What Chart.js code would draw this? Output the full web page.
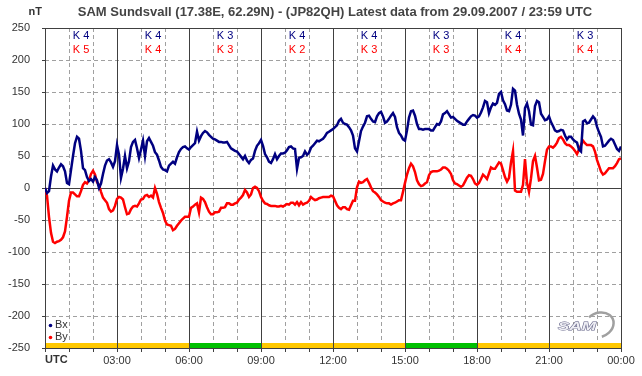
<!DOCTYPE html>
<html>
<head>
<meta charset="utf-8">
<script src="https://cdn.jsdelivr.net/npm/chart.js@4.4.1/dist/chart.umd.min.js"></script>
<style>
html, body { margin: 0; padding: 0; background: #fff; }
#wrap { width: 642px; height: 376px; }
</style>
</head>
<body>
<div id="wrap"><canvas id="samChart" width="642" height="376"></canvas></div>
<script>
var TITLE = 'SAM Sundsvall (17.38E, 62.29N) - (JP82QH) Latest data from 29.09.2007 / 23:59 UTC';
var STEP_MINUTES = 5;

// Bx (nT), one value every 5 minutes, 00:00 .. 24:00 (two hours per row)
var bx = [
    0, -8, -5, 18, 35, 29, 26, 32, 37, 34, 26, 8, 6, 28, 50, 70, 80, 77, 58, 31, 28, 17, 11, 14,
    10, 17, 12, 0, 7, 22, 35, 43, 45, 40, 33, 42, 67, 52, 16, 30, 50, 31, 42, 64, 72, 75, 62, 47,
    60, 74, 50, 73, 78, 72, 66, 56, 52, 43, 33, 29, 28, 26, 35, 38, 41, 38, 48, 56, 61, 64, 65, 62,
    60, 64, 67, 70, 88, 74, 81, 86, 89, 87, 83, 80, 77, 76, 74, 72, 72, 71, 71, 72, 67, 62, 60, 58,
    57, 53, 49, 45, 50, 43, 39, 44, 46, 58, 66, 70, 75, 66, 53, 48, 41, 39, 45, 53, 45, 50, 54, 54,
    55, 59, 64, 65, 62, 61, 30, 47, 48, 50, 57, 52, 55, 63, 66, 70, 74, 73, 75, 77, 81, 86, 88, 90,
    92, 95, 98, 105, 108, 102, 100, 99, 95, 90, 82, 62, 57, 73, 89, 96, 102, 112, 113, 108, 104, 103, 112, 117,
    119, 112, 102, 104, 108, 113, 117, 111, 95, 86, 82, 76, 74, 90, 110, 120, 121, 113, 100, 92, 92, 91, 92, 92,
    92, 90, 90, 95, 100, 99, 104, 115, 117, 120, 115, 110, 111, 108, 105, 103, 101, 99, 99, 104, 108, 112, 114, 113,
    110, 112, 118, 126, 136, 134, 117, 126, 132, 130, 133, 147, 150, 137, 131, 121, 120, 130, 155, 152, 130, 116, 107, 82,
    125, 132, 120, 99, 98, 128, 136, 134, 116, 111, 106, 107, 112, 103, 97, 90, 88, 89, 91, 90, 82, 76, 80, 80,
    76, 73, 71, 60, 57, 104, 106, 101, 102, 107, 112, 108, 96, 87, 80, 65, 66, 70, 74, 77, 75, 68, 61, 58, 65
];

// By (nT)
var by = [
    0, -12, -45, -70, -84, -86, -84, -83, -81, -77, -68, -45, -20, -7, -7, -10, -13, -13, -5, 5, 9, 7, 12, 22,
    27, 21, 9, 5, -6, -15, -19, -23, -33, -37, -35, -28, -17, -14, -15, -18, -30, -41, -40, -33, -29, -28, -29, -24,
    -18, -17, -12, -11, -14, -12, -15, 0, -9, -22, -31, -39, -51, -57, -58, -59, -66, -64, -59, -55, -51, -48, -45, -45,
    -45, -31, -29, -26, -24, -38, -15, -17, -22, -30, -37, -41, -41, -38, -38, -37, -31, -31, -30, -24, -24, -26, -26, -24,
    -23, -18, -15, -11, -3, -7, -14, -10, 0, 2, 0, -5, -14, -20, -24, -25, -27, -28, -28, -28, -29, -29, -28, -29,
    -27, -25, -26, -23, -23, -26, -22, -27, -22, -26, -24, -23, -20, -14, -17, -19, -18, -16, -15, -14, -14, -14, -14, -12,
    -13, -20, -27, -31, -33, -30, -30, -33, -34, -27, -20, -20, 1, 10, 8, 9, 12, 14, 8, 1, -5, -7, -10, -14,
    -19, -21, -23, -24, -24, -26, -24, -23, -21, -19, -19, -6, 8, 21, 31, 38, 34, 25, 12, 6, 3, 4, 7, 9,
    20, 25, 26, 26, 26, 27, 29, 32, 32, 30, 27, 22, 12, 7, 6, 4, 2, 4, 10, 16, 20, 19, 14, 7,
    5, 8, 14, 21, 18, 14, 23, 32, 30, 30, 35, 40, 38, 28, 17, 10, 16, 40, 58, -4, -6, -6, -6, 5,
    45, 8, -6, 15, 42, 50, 32, 12, 13, 22, 42, 60, 65, 65, 63, 66, 71, 78, 80, 76, 70, 67, 67, 65,
    62, 58, 53, 60, 67, 74, 70, 67, 67, 67, 65, 57, 44, 35, 26, 21, 23, 27, 31, 31, 31, 34, 39, 45, 46
];

// K indices per 3-hour block
var kBx = [4, 4, 3, 4, 4, 3, 4, 3];
var kBy = [5, 4, 3, 2, 3, 3, 4, 4];

// status bar colour per 3-hour block
var statusColors = ['#ffc800', '#ffc800', '#00c000', '#ffc800', '#ffc800', '#00c000', '#ffc800', '#ffc800'];

var hourLabels = {3: '03:00', 6: '06:00', 9: '09:00', 12: '12:00', 15: '15:00', 18: '18:00', 21: '21:00', 24: '00:00'};

var yTicks = [-250, -200, -150, -100, -50, 0, 50, 100, 150, 200, 250];

var BLUE = '#000080';
var RED = '#ff0000';
var FONT = "'Liberation Sans', Arial, sans-serif";

(function() {
    'use strict';

    var times = bx.map(function(v, i) { return i * STEP_MINUTES / 60; });

    function hline(ctx, x0, x1, y) {
        ctx.beginPath();
        ctx.moveTo(x0, y);
        ctx.lineTo(x1, y);
        ctx.stroke();
    }
    function vline(ctx, x, y0, y1) {
        ctx.beginPath();
        ctx.moveTo(x, y0);
        ctx.lineTo(x, y1);
        ctx.stroke();
    }

    var samDecor = {
        id: 'samDecor',
        beforeDatasetsDraw: function(chart) {
            var ctx = chart.ctx, a = chart.chartArea;
            var xs = chart.scales.x, ys = chart.scales.y;
            var h, px, py;
            ctx.save();
            ctx.lineWidth = 1;

            // dashed hourly / 50 nT grid
            ctx.strokeStyle = '#a0a0a0';
            ctx.setLineDash([4, 3]);
            for (h = 1; h < 24; h++) {
                if (h % 3 === 0) continue;
                px = Math.round(xs.getPixelForValue(h)) + 0.5;
                vline(ctx, px, a.top, a.bottom);
            }
            yTicks.forEach(function(t) {
                if (t === 0 || t === 250 || t === -250) return;
                py = Math.round(ys.getPixelForValue(t)) + 0.5;
                hline(ctx, a.left, a.right, py);
            });
            ctx.setLineDash([]);

            // status bar along the bottom
            statusColors.forEach(function(c, b) {
                var x0 = xs.getPixelForValue(b * 3);
                var x1 = xs.getPixelForValue(b * 3 + 3);
                ctx.fillStyle = c;
                ctx.fillRect(x0, a.bottom - 5, x1 - x0, 5);
            });

            // solid 3-hour lines, zero line, frame
            ctx.strokeStyle = '#404040';
            for (h = 3; h < 24; h += 3) {
                px = Math.round(xs.getPixelForValue(h)) + 0.5;
                vline(ctx, px, a.top, a.bottom + 4);
            }
            py = Math.round(ys.getPixelForValue(0)) + 0.5;
            hline(ctx, a.left, a.right, py);
            ctx.strokeRect(Math.round(a.left) + 0.5, Math.round(a.top) + 0.5,
                Math.round(a.right - a.left), Math.round(a.bottom - a.top));

            // tick marks
            for (h = 0; h <= 24; h++) {
                px = Math.round(xs.getPixelForValue(h)) + 0.5;
                vline(ctx, px, a.bottom, a.bottom + 4);
            }
            yTicks.forEach(function(t) {
                py = Math.round(ys.getPixelForValue(t)) + 0.5;
                hline(ctx, a.left - 3, a.left, py);
            });
            ctx.restore();
        },
        afterDraw: function(chart) {
            var ctx = chart.ctx, a = chart.chartArea;
            var xs = chart.scales.x;
            ctx.save();

            // title
            ctx.fillStyle = '#444444';
            ctx.font = 'bold 13px ' + FONT;
            ctx.textAlign = 'center';
            ctx.textBaseline = 'middle';
            ctx.fillText(TITLE, (a.left + a.right) / 2 + 2, 12);

            ctx.fillStyle = '#333333';
            ctx.font = 'bold 11px ' + FONT;
            ctx.textAlign = 'right';
            ctx.fillText('nT', 42, 12);

            ctx.textAlign = 'left';
            ctx.fillText('UTC', a.left, 360);

            // K indices
            ctx.font = '11px ' + FONT;
            ctx.textAlign = 'center';
            kBx.forEach(function(k, b) {
                var px = xs.getPixelForValue(b * 3 + 1.5);
                ctx.fillStyle = BLUE;
                ctx.fillText('K ' + k, px, 36);
                ctx.fillStyle = RED;
                ctx.fillText('K ' + kBy[b], px, 50);
            });

            // legend
            ctx.textAlign = 'left';
            ctx.fillStyle = BLUE;
            ctx.beginPath();
            ctx.arc(50.5, 325.5, 1.8, 0, Math.PI * 2);
            ctx.fill();
            ctx.fillStyle = RED;
            ctx.beginPath();
            ctx.arc(50.5, 337.5, 1.8, 0, Math.PI * 2);
            ctx.fill();
            ctx.fillStyle = '#333333';
            ctx.fillText('Bx', 55, 325);
            ctx.fillText('By', 55, 337);

            // SAM logo
            ctx.strokeStyle = '#a0a0a0';
            ctx.lineWidth = 2.5;
            ctx.beginPath();
            ctx.ellipse(599, 325, 15, 12, -0.4, -2.0, 1.7);
            ctx.stroke();
            ctx.save();
            ctx.translate(558, 330);
            ctx.scale(1.55, 1);
            ctx.font = 'italic bold 11px ' + FONT;
            ctx.textBaseline = 'alphabetic';
            ctx.fillStyle = '#eeeef4';
            ctx.strokeStyle = '#5a5a80';
            ctx.lineWidth = 0.8;
            ctx.strokeText('SAM', 0, 0);
            ctx.fillText('SAM', 0, 0);
            ctx.restore();

            ctx.restore();
        }
    };

    new Chart(document.getElementById('samChart'), {
        type: 'line',
        data: {
            labels: times,
            datasets: [{
                label: 'Bx',
                data: bx,
                borderColor: BLUE,
                borderWidth: 2.5,
                pointRadius: 0,
                tension: 0,
                fill: false
            }, {
                label: 'By',
                data: by,
                borderColor: RED,
                borderWidth: 2.5,
                pointRadius: 0,
                tension: 0,
                fill: false
            }]
        },
        options: {
            responsive: false,
            animation: false,
            events: [],
            layout: { padding: { top: 28, right: 21, left: 0, bottom: 0 } },
            plugins: {
                legend: { display: false },
                tooltip: { enabled: false }
            },
            scales: {
                x: {
                    type: 'linear',
                    min: 0,
                    max: 24,
                    afterFit: function(s) { s.height = 28; },
                    grid: { display: false, drawTicks: false },
                    border: { display: false },
                    ticks: {
                        stepSize: 1,
                        autoSkip: false,
                        maxRotation: 0,
                        padding: 6,
                        color: '#333333',
                        font: { family: FONT, size: 11 },
                        callback: function(v) { return hourLabels[v] || ''; }
                    }
                },
                y: {
                    min: -250,
                    max: 250,
                    afterFit: function(s) { s.width = 45; },
                    grid: { display: false, drawTicks: false },
                    border: { display: false },
                    ticks: {
                        stepSize: 50,
                        padding: 15,
                        color: '#333333',
                        font: { family: FONT, size: 11 }
                    }
                }
            }
        },
        plugins: [samDecor]
    });
})();
</script>
</body>
</html>
